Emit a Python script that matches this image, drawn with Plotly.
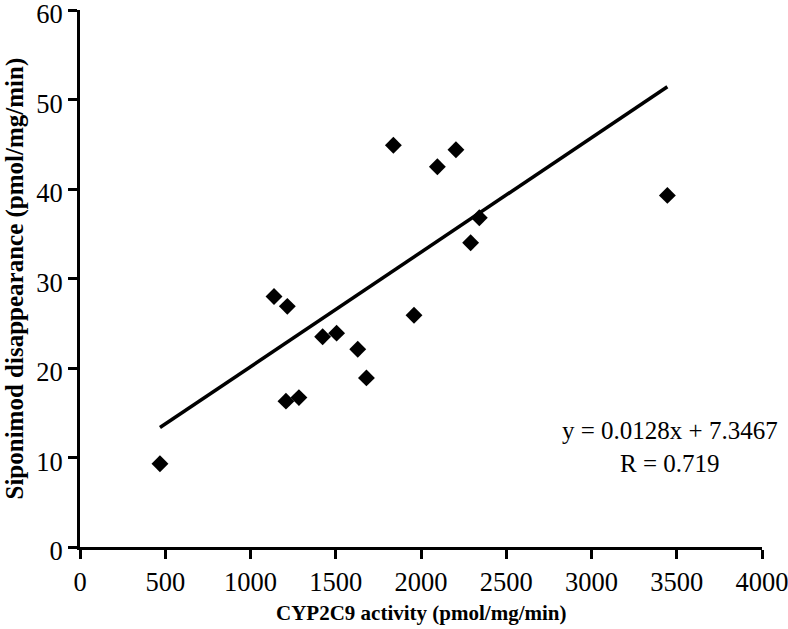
import plotly.graph_objects as go

# Data
cyp2c9_activity = [469, 1138, 1216, 1208, 1284, 1423, 1505, 1629, 1680, 1838, 1959, 2096, 2205, 2342, 2291, 3445]
siponimod_disappearance = [9.3, 28.0, 26.9, 16.3, 16.7, 23.5, 23.9, 22.1, 18.9, 44.9, 25.9, 42.5, 44.4, 36.8, 34.0, 39.3]

slope = 0.0128
intercept = 7.3467
r_value = 0.719

x_ticks = [0, 500, 1000, 1500, 2000, 2500, 3000, 3500, 4000]
y_ticks = [0, 10, 20, 30, 40, 50, 60]

x_title = "CYP2C9 activity (pmol/mg/min)"
y_title = "Siponimod disappearance (pmol/mg/min)"

trend_x = [min(cyp2c9_activity), max(cyp2c9_activity)]
trend_y = [slope * v + intercept for v in trend_x]

FONT = "Liberation Serif"

fig = go.Figure()
fig.add_trace(go.Scatter(
    x=trend_x, y=trend_y, mode="lines",
    line=dict(color="black", width=3.5), showlegend=False, hoverinfo="skip"))
fig.add_trace(go.Scatter(
    x=cyp2c9_activity, y=siponimod_disappearance, mode="markers",
    marker=dict(symbol="diamond", size=13, color="black"), showlegend=False))

fig.add_annotation(
    x=3460, y=11.2, xref="x", yref="y",
    text=f"y = {slope}x + {intercept}<br>R = {r_value}",
    showarrow=False, align="center", xanchor="center", yanchor="middle",
    font=dict(family=FONT, size=25, color="black"))

# Axis titles
fig.add_annotation(
    x=0.5, y=0, xref="paper", yref="paper", yshift=-66,
    text=f"<b>{x_title}</b>", showarrow=False,
    xanchor="center", yanchor="middle",
    font=dict(family=FONT, size=21, color="black"))
fig.add_annotation(
    x=0, y=0.5, xref="paper", yref="paper", xshift=-66,
    text=f"<b>{y_title}</b>", showarrow=False, textangle=-90,
    xanchor="center", yanchor="middle",
    font=dict(family=FONT, size=25, color="black"))

fig.update_layout(
    width=788, height=629,
    margin=dict(l=80, r=26, t=10, b=82),
    plot_bgcolor="white", paper_bgcolor="white",
    font=dict(family=FONT, color="black"),
)
fig.update_xaxes(
    range=[0, 4000], tickvals=x_ticks, ticktext=[str(v) for v in x_ticks],
    showline=True, linecolor="black", linewidth=3, mirror=False,
    ticks="outside", ticklen=9, tickwidth=3, tickcolor="black",
    showgrid=False, zeroline=False, automargin=False,
    ticklabeloverflow="allow",
    tickfont=dict(family=FONT, size=26.5, color="black"),
)
fig.update_yaxes(
    range=[0, 60.02], tickvals=y_ticks, ticktext=[str(v) for v in y_ticks],
    showline=True, linecolor="black", linewidth=3, mirror=False,
    ticks="outside", ticklen=9, tickwidth=3, tickcolor="black",
    showgrid=False, zeroline=False, automargin=False,
    ticklabeloverflow="allow", ticklabelshift=4,
    tickfont=dict(family=FONT, size=26.5, color="black"),
)

fig.write_html("out.html", config={"displayModeBar": False},
               post_script="document.body.style.margin='0px';")
